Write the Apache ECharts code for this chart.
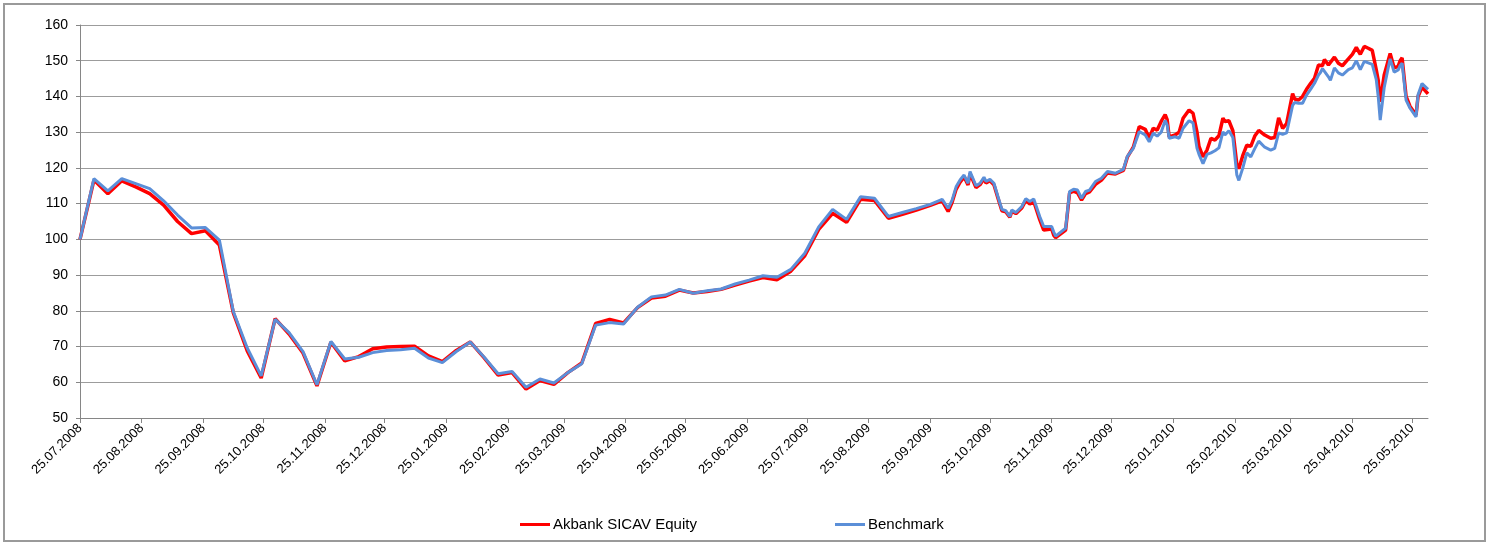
<!DOCTYPE html>
<html>
<head>
<meta charset="utf-8">
<script src="https://cdn.jsdelivr.net/npm/echarts@6/dist/echarts.min.js"></script>
<style>
html,body{margin:0;padding:0;background:#fff;}
#chart{position:absolute;left:0;top:0;width:1490px;height:544px;}
#frame{position:absolute;left:3px;top:3px;width:1479px;height:535px;border:2px solid #9a9a9a;pointer-events:none;}
</style>
</head>
<body>
<div id="chart"></div>
<div id="frame"></div>
<script>
// Start date of the series; day offsets below are counted from it
const startDate = '2008-07-25';
const seriesNames = ['Akbank SICAV Equity', 'Benchmark'];

// Days since startDate for each observation
const days = [
  0,7,14,21,28,35,42,49,56,63,70,77,84,91,98,105,112,119,126,133,
  140,147,154,161,168,175,182,189,196,203,210,217,224,231,238,245,252,259,266,273,
  280,287,294,301,308,315,322,329,336,343,350,357,364,371,378,385,392,399,
  406,413,420,427,
  433,436,438,440,442,444,446,447,448,450,452,454,455,457,459,461,463,465,467,468,
  470,473,475,477,479,480,482,484,485,488,489,490,495,497,499,501,503,505,507,510,
  513,516,520,524,526,529,532,
  535,537,539,541,543,545,546,547,550,552,554,557,559,561,562,564,566,568,570,572,
  574,575,577,579,581,582,584,586,588,590,592,595,598,600,602,604,606,609,610,612,
  614,616,618,620,622,623,624,625,627,628,630,632,634,635,637,639,641,642,643,645,
  647,649,651,652,653,655,657,658,660,662,663,664,666,668,671,672,674,677
];

// Akbank SICAV Equity (red)
const fund = [
  100,116.6,112.8,116.4,114.7,112.8,109.6,105.0,101.6,102.4,98.4,79.4,68.8,61.2,77.8,73.5,68.2,59.0,71.2,66.0,
  67.2,69.4,69.9,70.0,70.1,67.4,65.8,68.9,71.3,66.8,62.0,62.7,58.1,60.5,59.4,62.7,65.4,76.5,77.6,76.6,
  80.9,83.6,84.1,85.8,85.0,85.4,86.0,87.2,88.3,89.3,88.7,91.1,95.4,102.8,107.3,104.8,111.2,110.9,
  105.9,107.0,108.2,109.5,
  110.8,107.8,110.4,114.0,116.0,117.5,115.2,118.4,118.0,114.5,115.3,117.0,115.8,116.4,115.3,111.6,108.0,107.7,106.2,107.9,
  107.2,108.8,110.9,109.9,110.6,111.0,105.5,102.6,102.8,102.9,101.2,100.5,102.6,113.0,113.5,113.0,111.0,112.8,113.3,115.4,
  116.6,118.6,118.3,119.3,123.0,125.8,131.6,
  130.8,128.3,131.1,130.6,133.0,134.9,133.5,128.7,129.2,130.0,133.9,136.2,135.3,130.0,126.0,123.1,125.0,128.3,127.8,129.0,
  133.9,133.0,133.2,130.4,121.0,119.8,123.5,126.4,126.0,128.9,130.5,129.2,128.3,128.5,134.0,131.1,132.4,140.8,139.3,139.0,
  140.0,142.0,143.6,145.1,148.8,148.6,148.6,150.3,148.8,148.5,151.0,149.3,148.6,148.4,150.5,151.8,153.7,154.2,151.8,154.0,
  153.5,152.9,147.5,144.5,138.5,146.0,150.0,152.0,148.0,148.4,150.0,150.8,140.0,137.2,134.8,140.0,142.6,140.7
];

// Benchmark (blue)
const bench = [
  100,117.0,113.6,117.0,115.6,114.2,110.8,106.8,103.2,103.3,99.8,79.8,69.6,61.8,77.6,73.9,68.6,59.3,71.4,66.5,
  67.0,68.3,68.9,69.1,69.5,66.8,65.5,68.6,71.3,67.0,62.4,63.0,58.6,60.9,59.8,62.7,65.2,76.0,76.7,76.3,
  81.0,83.9,84.4,86.0,84.9,85.6,86.1,87.5,88.6,89.8,89.4,91.6,96.1,103.5,108.4,105.6,111.9,111.5,
  106.4,107.5,108.6,109.8,
  111.2,108.7,111.0,114.7,116.6,118.0,115.7,119.0,118.7,115.0,115.7,117.4,116.2,116.8,115.7,112.0,108.4,108.0,106.4,108.2,
  107.5,109.2,111.4,110.6,111.3,111.5,106.4,103.6,103.7,103.6,102.1,100.9,103.1,113.4,114.0,113.8,111.5,113.4,113.8,116.2,
  117.1,119.0,118.5,119.6,123.2,125.5,130.2,
  129.2,127.3,129.7,128.9,130.0,133.3,132.0,128.3,128.7,128.3,131.1,133.2,132.6,125.5,123.8,121.2,123.8,124.2,124.8,125.6,
  130.1,129.2,130.4,128.5,118.0,116.5,120.0,124.2,123.1,125.4,127.5,125.8,125.0,125.5,129.8,129.4,129.8,137.5,138.3,138.1,
  138.1,140.4,142.0,143.7,146.0,146.7,147.8,147.4,145.5,144.5,148.0,146.6,146.0,145.6,147.5,148.0,150.0,150.5,147.5,149.8,
  149.4,149.0,144.8,140.0,133.4,142.5,148.0,150.5,146.8,147.4,148.6,149.3,139.0,136.7,134.3,140.5,143.6,142.0
];

// Dates shown on the x axis
const tickDates = [
  '2008-07-25','2008-08-25','2008-09-25','2008-10-25','2008-11-25','2008-12-25',
  '2009-01-25','2009-02-25','2009-03-25','2009-04-25','2009-05-25','2009-06-25',
  '2009-07-25','2009-08-25','2009-09-25','2009-10-25','2009-11-25','2009-12-25',
  '2010-01-25','2010-02-25','2010-03-25','2010-04-25','2010-05-25'
];

const DAY = 86400000;
const t0 = Date.parse(startDate);
const tickOffsets = tickDates.map(s => Math.round((Date.parse(s) - t0) / DAY));
const pad = n => (n < 10 ? '0' : '') + n;
const fmt = off => { const d = new Date(t0 + Math.round(off) * DAY); return pad(d.getUTCDate()) + '.' + pad(d.getUTCMonth() + 1) + '.' + d.getUTCFullYear(); };

const fundData = days.map((d, i) => [d, fund[i]]);
const benchData = days.map((d, i) => [d, bench[i]]);

const chart = echarts.init(document.getElementById('chart'), null, {renderer: 'canvas'});
const FONT = '"Liberation Sans", Arial, sans-serif';
const legendBase = {
  top: 512, itemWidth: 30, itemHeight: 3, icon: 'rect',
  textStyle: {fontFamily: FONT, fontSize: 15, color: '#000', padding: [0, 0, 0, -2]}
};
chart.setOption({
  animation: false,
  backgroundColor: '#ffffff',
  grid: {left: 80, right: 62, top: 25, bottom: 126},
  legend: [
    Object.assign({}, legendBase, {left: 515, data: [seriesNames[0]]}),
    Object.assign({}, legendBase, {left: 830, data: [seriesNames[1]]})
  ],
  xAxis: {
    type: 'value',
    min: days[0],
    max: days[days.length - 1],
    axisLine: {onZero: false, lineStyle: {color: '#868686', width: 1}},
    axisTick: {show: true, length: 5, customValues: tickOffsets, lineStyle: {color: '#868686'}},
    axisLabel: {
      customValues: tickOffsets,
      rotate: 45, margin: 8,
      fontFamily: FONT, fontSize: 13, color: '#000',
      formatter: v => fmt(v),
      hideOverlap: false
    },
    splitLine: {show: false}
  },
  yAxis: {
    type: 'value',
    min: 50, max: 160, interval: 10,
    axisLine: {show: true, lineStyle: {color: '#868686', width: 1}},
    axisTick: {show: true, length: 4, lineStyle: {color: '#868686'}},
    axisLabel: {margin: 12, fontFamily: FONT, fontSize: 14, color: '#000'},
    splitLine: {lineStyle: {color: '#9c9c9c', width: 1}}
  },
  series: [
    {name: seriesNames[0], type: 'line', data: fundData, showSymbol: false, symbol: 'none',
     color: '#ff0000', lineStyle: {color: '#ff0000', width: 3.5}, z: 2},
    {name: seriesNames[1], type: 'line', data: benchData, showSymbol: false, symbol: 'none',
     color: '#5b8fd8', lineStyle: {color: '#5b8fd8', width: 3}, z: 3}
  ]
});
</script>
</body>
</html>
